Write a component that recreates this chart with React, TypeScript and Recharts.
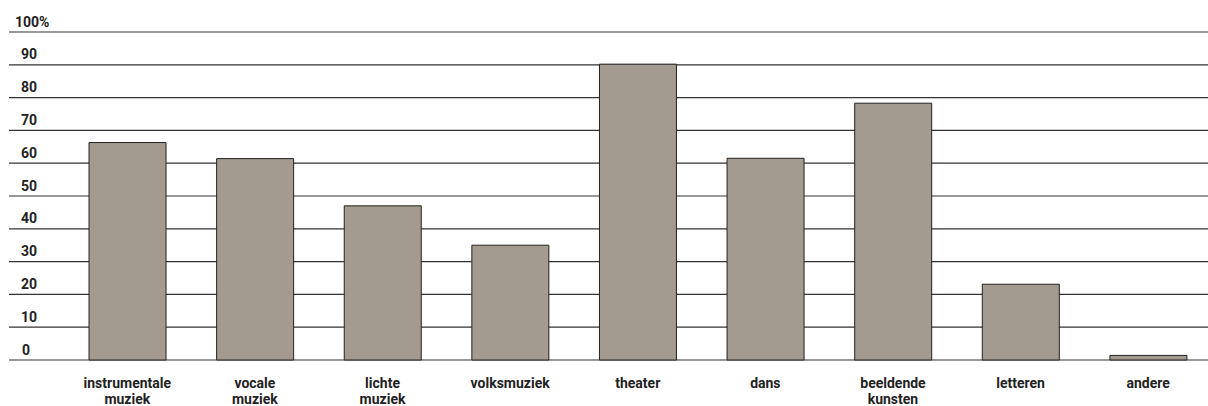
import React from "react";
import { BarChart, Bar, XAxis, YAxis, CartesianGrid } from "recharts";

const categories = [
  "instrumentale\nmuziek",
  "vocale\nmuziek",
  "lichte\nmuziek",
  "volksmuziek",
  "theater",
  "dans",
  "beeldende\nkunsten",
  "letteren",
  "andere",
];
const values = [66.3, 61.4, 47, 35, 90.2, 61.5, 78.3, 23.1, 1.4];
const yTicks = [0, 10, 20, 30, 40, 50, 60, 70, 80, 90, 100];

const data = categories.map((name, i) => ({ name, value: values[i] }));

const FONT = "'Roboto', sans-serif";

const YTick = (props: any) => {
  const { x, y, payload } = props;
  const v = payload.value;
  const label = v === 100 ? "100%" : String(v);
  const tx = v === 100 ? x + 6 : v === 0 ? x + 13 : x + 12;
  return (
    <text x={tx} y={y - 5.5} fill="#222" fontSize={14} fontWeight={700} fontFamily={FONT} textAnchor="start">
      {label}
    </text>
  );
};

const XTick = (props: any) => {
  const { x, y, payload } = props;
  const lines = String(payload.value).split("\n");
  return (
    <text x={x} y={y + 28} fill="#222" fontSize={14} fontWeight={700} fontFamily={FONT} textAnchor="middle">
      {lines.map((l, i) => (
        <tspan key={i} x={x} dy={i === 0 ? 0 : 15.5}>
          {l}
        </tspan>
      ))}
    </text>
  );
};

export default function App() {
  return (
    <div style={{ position: "absolute", left: 0, top: 0, width: 1208, height: 406, overflow: "hidden", background: "#fff" }}>
      <BarChart
        width={1212}
        height={406}
        data={data}
        margin={{ top: 32, right: 0, bottom: 0, left: 0 }}
        barCategoryGap="20%"
      >
        <CartesianGrid horizontal vertical={false} stroke="#333" strokeWidth={1.2} />
        <XAxis
          dataKey="name"
          axisLine={false}
          tickLine={false}
          tickSize={0}
          tickMargin={0}
          padding={{ left: 54.5, right: 0 }}
          interval={0}
          tick={<XTick />}
          height={46}
        />
        <YAxis
          domain={[0, 100]}
          ticks={yTicks}
          axisLine={false}
          tickLine={false}
          tickSize={0}
          tickMargin={0}
          width={9}
          tick={<YTick />}
          interval={0}
        />
        <Bar dataKey="value" fill="#a39b8f" stroke="#222" strokeWidth={1} isAnimationActive={false} />
      </BarChart>
    </div>
  );
}
